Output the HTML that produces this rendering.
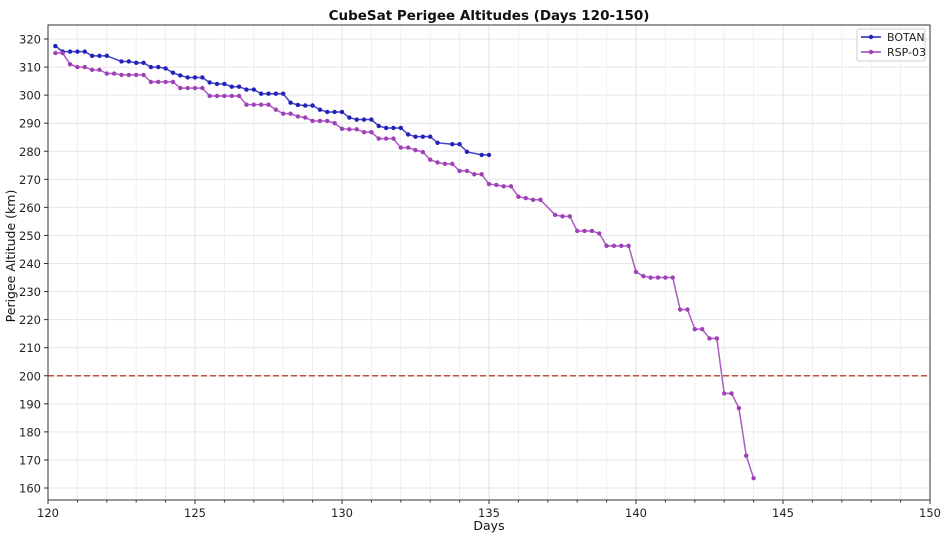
<!DOCTYPE html>
<html><head><meta charset="utf-8"><style>
html,body{margin:0;padding:0;background:#fff;}
svg{display:block;font-family:"DejaVu Sans","Liberation Sans",sans-serif;}
</style></head><body>
<svg id="s" width="948" height="540" xmlns="http://www.w3.org/2000/svg"></svg>
<script>
const L=48,R=930,T=25,B=500;
const X=d=>L+(d-120)*(R-L)/30;
const Y=v=>39+(320-v)*(488-39)/160;
const s=document.getElementById('s');let h='';
h+=`<rect x="${L}" y="${T}" width="${R-L}" height="${B-T}" fill="#fff"/>`;
for(let d=121;d<150;d++){const x=X(d);h+=`<line x1="${x}" y1="${T}" x2="${x}" y2="${B}" stroke="${d%5?'#efefef':'#e2e2e2'}" stroke-width="1"/>`;}
for(let v=160;v<=320;v+=10){const y=Y(v);h+=`<line x1="${L}" y1="${y}" x2="${R}" y2="${y}" stroke="#e6e6e6" stroke-width="1"/>`;
h+=`<line x1="${L-4}" y1="${y}" x2="${L}" y2="${y}" stroke="#333"/><text x="${L-7}" y="${y+4.5}" font-size="11.5" text-anchor="end" fill="#222">${v}</text>`;}
for(let d=120;d<=150;d++){const x=X(d);const M=d%5==0;h+=`<line x1="${x}" y1="${B}" x2="${x}" y2="${B+(M?4:2.5)}" stroke="#333"/>`;if(M)h+=`<text x="${x}" y="${B+17}" font-size="11.5" text-anchor="middle" fill="#222">${d}</text>`;}
h+=`<line x1="${L}" y1="${Y(200)}" x2="${R}" y2="${Y(200)}" stroke="#c0503a" stroke-width="1.4" stroke-dasharray="6,3"/>`;
const botan=[317.5,315.5,315.5,315.5,315.5,314,314,314,null,312,312,311.5,311.5,310,310,309.5,308,307,306.3,306.3,306.3,304.5,304,304,303,303,302,302,300.5,300.5,300.5,300.5,297.3,296.5,296.3,296.3,294.8,294,294,294,292,291.3,291.3,291.3,289,288.3,288.3,288.3,286,285.2,285.2,285.2,283,null,282.5,282.5,279.8,null,278.7,278.7];
const rsp=[315,315,311,310,310,309,309,307.7,307.7,307.2,307.2,307.2,307.2,304.7,304.7,304.7,304.7,302.5,302.5,302.5,302.5,299.7,299.7,299.7,299.7,299.7,296.6,296.6,296.6,296.6,294.8,293.4,293.4,292.4,292,290.8,290.8,290.8,290,288,287.8,287.8,286.8,286.8,284.5,284.5,284.5,281.3,281.3,280.4,279.7,277,276,275.5,275.5,273,273,271.8,271.8,268.3,268,267.5,267.5,263.8,263.3,262.7,262.7,null,257.3,256.8,256.8,251.6,251.6,251.6,250.7,246.3,246.3,246.3,246.3,237,235.5,235,235,235,235,223.6,223.6,216.6,216.6,213.3,213.3,193.7,193.7,188.5,171.5,163.5];
function series(arr,c){let pts=[];arr.forEach((v,i)=>{if(v!==null)pts.push([X(120.25+i*0.25),Y(v)]);});
h+=`<polyline points="${pts.map(p=>p.join(',')).join(' ')}" fill="none" stroke="${c}" stroke-width="1.5" opacity="0.85"/>`;
pts.forEach(p=>h+=`<circle cx="${p[0]}" cy="${p[1]}" r="2.2" fill="${c}"/>`);}
series(botan,'#2222bb');series(rsp,'#a040b8');
h+=`<rect x="${L}" y="${T}" width="${R-L}" height="${B-T}" fill="none" stroke="#333" stroke-width="1"/>`;
h+=`<rect x="857" y="29" width="68" height="32" rx="2" fill="#fff" stroke="#ccc"/>`;
h+=`<line x1="861" y1="37" x2="881" y2="37" stroke="#2222bb" stroke-width="1.5"/><circle cx="871" cy="37" r="2.2" fill="#2222bb"/><text x="887" y="41" font-size="11" fill="#222">BOTAN</text>`;
h+=`<line x1="861" y1="52" x2="881" y2="52" stroke="#a040b8" stroke-width="1.5"/><circle cx="871" cy="52" r="2.2" fill="#a040b8"/><text x="887" y="56" font-size="11" fill="#222">RSP-03</text>`;
h+=`<text x="489" y="20" font-size="13.5" font-weight="bold" text-anchor="middle" fill="#111">CubeSat Perigee Altitudes (Days 120-150)</text>`;
h+=`<text x="489" y="530" font-size="12.5" text-anchor="middle" fill="#111">Days</text>`;
h+=`<text transform="translate(15,256) rotate(-90)" font-size="12.5" text-anchor="middle" fill="#111">Perigee Altitude (km)</text>`;
s.innerHTML=h;
</script>
</body></html>
